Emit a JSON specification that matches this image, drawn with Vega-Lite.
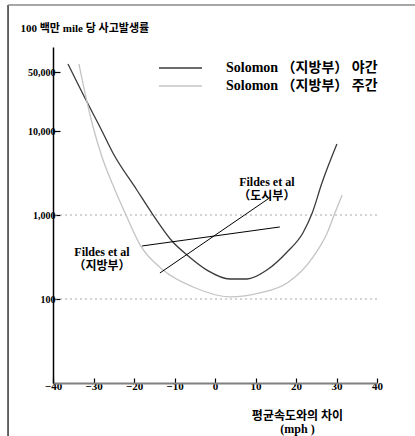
{
  "$schema": "https://vega.github.io/schema/vega-lite/v6.json",
  "width": 324,
  "height": 336,
  "autosize": "none",
  "padding": {"left": 53, "top": 47, "right": 38, "bottom": 53},
  "background": "white",
  "config": {"view": {"stroke": null}, "font": "Liberation Serif, Noto Sans CJK KR"},
  "datasets": {
    "grid": [{"rate": 100}, {"rate": 1000}],
    "solomon": [
      {"series": "Solomon （지방부） 야간", "mph": -36.3, "rate": 62800},
      {"series": "Solomon （지방부） 야간", "mph": -31.6, "rate": 22100},
      {"series": "Solomon （지방부） 야간", "mph": -28.4, "rate": 11160},
      {"series": "Solomon （지방부） 야간", "mph": -25.2, "rate": 5470},
      {"series": "Solomon （지방부） 야간", "mph": -19.3, "rate": 1985},
      {"series": "Solomon （지방부） 야간", "mph": -15.6, "rate": 1056},
      {"series": "Solomon （지방부） 야간", "mph": -10.4, "rate": 477},
      {"series": "Solomon （지방부） 야간", "mph": -6.9, "rate": 334},
      {"series": "Solomon （지방부） 야간", "mph": -2.0, "rate": 221},
      {"series": "Solomon （지방부） 야간", "mph": 3.7, "rate": 173},
      {"series": "Solomon （지방부） 야간", "mph": 7.9, "rate": 173},
      {"series": "Solomon （지방부） 야간", "mph": 12.8, "rate": 221},
      {"series": "Solomon （지방부） 야간", "mph": 17.8, "rate": 363},
      {"series": "Solomon （지방부） 야간", "mph": 21.7, "rate": 611},
      {"series": "Solomon （지방부） 야간", "mph": 24.0, "rate": 1056},
      {"series": "Solomon （지방부） 야간", "mph": 26.4, "rate": 2405},
      {"series": "Solomon （지방부） 야간", "mph": 30.1, "rate": 7000},
      {"series": "Solomon （지방부） 주간", "mph": -33.6, "rate": 62800},
      {"series": "Solomon （지방부） 주간", "mph": -31.6, "rate": 22100},
      {"series": "Solomon （지방부） 주간", "mph": -30.1, "rate": 11160},
      {"series": "Solomon （지방부） 주간", "mph": -27.9, "rate": 4900},
      {"series": "Solomon （지방부） 주간", "mph": -24.7, "rate": 1985},
      {"series": "Solomon （지방부） 주간", "mph": -22.2, "rate": 1056},
      {"series": "Solomon （지방부） 주간", "mph": -18.5, "rate": 440},
      {"series": "Solomon （지방부） 주간", "mph": -12.8, "rate": 221},
      {"series": "Solomon （지방부） 주간", "mph": -5.4, "rate": 139},
      {"series": "Solomon （지방부） 주간", "mph": 3.7, "rate": 106},
      {"series": "Solomon （지방부） 주간", "mph": 11.1, "rate": 118},
      {"series": "Solomon （지방부） 주간", "mph": 17.8, "rate": 155},
      {"series": "Solomon （지방부） 주간", "mph": 24.2, "rate": 316},
      {"series": "Solomon （지방부） 주간", "mph": 27.7, "rate": 611},
      {"series": "Solomon （지방부） 주간", "mph": 29.6, "rate": 1056},
      {"series": "Solomon （지방부） 주간", "mph": 31.4, "rate": 1730}
    ],
    "fildes": [
      {"series": "Fildes et al (지방부)", "mph": -18.0, "rate": 428},
      {"series": "Fildes et al (지방부)", "mph": 16.0, "rate": 720},
      {"series": "Fildes et al (도시부)", "mph": -13.6, "rate": 204},
      {"series": "Fildes et al (도시부)", "mph": 13.8, "rate": 1638}
    ],
    "labels": [
      {"label": "Fildes et al\n（도시부）", "mph": 12.8, "rate": 2471},
      {"label": "Fildes et al\n（지방부）", "mph": -27.9, "rate": 367}
    ],
    "frame": [{"edge": "box"}]
  },
  "layer": [
    {
      "data": {"name": "grid"},
      "mark": {"type": "rule", "color": "#a8a8a8", "strokeWidth": 1, "strokeDash": [2, 3]},
      "encoding": {
        "y": {"field": "rate", "type": "quantitative", "scale": {"type": "log", "domain": [10, 100000]}}
      }
    },
    {
      "data": {"name": "solomon"},
      "mark": {"type": "line", "interpolate": "monotone", "strokeWidth": 1.3},
      "encoding": {
        "x": {
          "field": "mph", "type": "quantitative",
          "scale": {"domain": [-40, 40], "nice": false, "zero": false},
          "axis": {
            "title": ["평균속도와의 차이", "(mph )"],
            "values": [-40, -30, -20, -10, 0, 10, 20, 30, 40],
            "grid": false,
            "labelFont": "Liberation Serif", "labelFontSize": 11, "labelFontWeight": "bold", "labelColor": "black",
            "labelPadding": 2, "labelFlush": false, "labelOverlap": false,
            "tickSize": -5, "tickColor": "black", "tickWidth": 1.2,
            "domainColor": "#808080", "domainWidth": 2,
            "titleFont": "Liberation Serif, Noto Sans CJK KR", "titleFontSize": 12, "titleFontWeight": "bold", "titleColor": "black",
            "titleX": 244, "titleY": 27, "titleAlign": "center", "titleBaseline": "top", "titleLineHeight": 13
          }
        },
        "y": {
          "field": "rate", "type": "quantitative",
          "scale": {"type": "log", "domain": [10, 100000]},
          "axis": {
            "title": "100 백만 mile 당  사고발생률",
            "titleAngle": 0, "titleX": -33, "titleY": -19, "titleAlign": "left", "titleBaseline": "middle",
            "titleFont": "Liberation Serif, Noto Sans CJK KR", "titleFontSize": 11, "titleFontWeight": "bold", "titleColor": "black",
            "values": [100, 1000, 10000, 50000], "format": ",",
            "grid": false,
            "labelFont": "Liberation Serif", "labelFontSize": 10, "labelFontWeight": "bold", "labelColor": "black",
            "labelPadding": 5,
            "tickSize": -7, "tickColor": "black", "tickWidth": 1.2,
            "domainColor": "black", "domainWidth": 1.5
          }
        },
        "color": {
          "field": "series", "type": "nominal",
          "scale": {"domain": ["Solomon （지방부） 야간", "Solomon （지방부） 주간"], "range": ["#3a3a3a", "#c4c4c4"]},
          "legend": {
            "orient": "none", "legendX": 120.5, "legendY": 14, "title": null, "padding": 0,
            "symbolType": "M-4.3,0H4.3", "symbolSize": 100, "symbolStrokeWidth": 1.5,
            "labelFont": "Liberation Serif, Noto Sans CJK KR", "labelFontSize": 14, "labelFontWeight": "bold", "labelColor": "black",
            "labelOffset": 38.5, "rowPadding": 4, "labelLimit": 300
          }
        }
      }
    },
    {
      "data": {"name": "fildes"},
      "mark": {"type": "line", "color": "black", "strokeWidth": 1},
      "encoding": {
        "x": {"field": "mph", "type": "quantitative"},
        "y": {"field": "rate", "type": "quantitative"},
        "detail": {"field": "series", "type": "nominal"}
      }
    },
    {
      "data": {"name": "labels"},
      "mark": {"type": "text", "align": "center", "baseline": "middle", "lineBreak": "\n", "lineHeight": 14,
               "font": "Liberation Serif, Noto Sans CJK KR", "fontSize": 12, "fontWeight": "bold", "color": "black"},
      "encoding": {
        "x": {"field": "mph", "type": "quantitative"},
        "y": {"field": "rate", "type": "quantitative"},
        "text": {"field": "label", "type": "nominal"}
      }
    },
    {
      "data": {"name": "frame"},
      "mark": {"type": "rule", "color": "#333333", "strokeWidth": 1.5},
      "encoding": {
        "x": {"datum": -51.1},
        "y": {"datum": 316228},
        "y2": {"datum": 2.3}
      }
    },
    {
      "data": {"name": "frame"},
      "mark": {"type": "rule", "color": "#8a8a8a", "strokeWidth": 1.5},
      "encoding": {
        "x": {"datum": -51.1},
        "x2": {"datum": 49.4},
        "y": {"datum": 316228}
      }
    }
  ]
}
